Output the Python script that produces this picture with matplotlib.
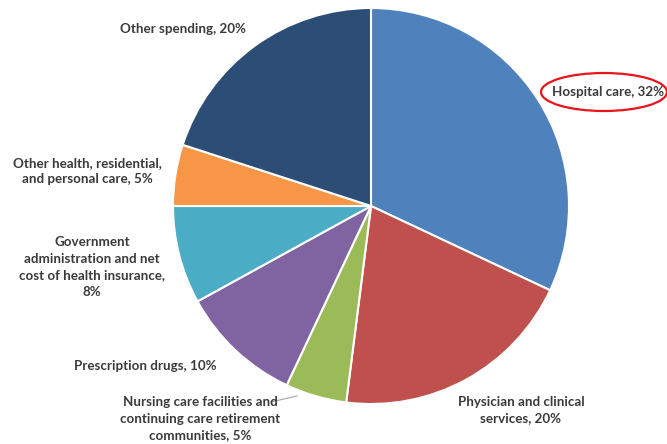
import matplotlib.pyplot as plt
from matplotlib.patches import Ellipse

# health spending shares, clockwise from 12 o'clock
categories = [
    "Hospital care",
    "Physician and clinical\nservices",
    "Nursing care facilities and\ncontinuing care retirement\ncommunities",
    "Prescription drugs",
    "Government\nadministration and net\ncost of health insurance,\n",
    "Other health, residential,\nand personal care",
    "Other spending",
]
shares = [32, 20, 5, 10, 8, 5, 20]
colors = ["#4F81BD", "#C0504D", "#9BBB59", "#8064A2", "#4BACC6", "#F79646", "#2C4D75"]

# label anchor points (pixels, from top-left)
label_pos = [(608, 92), (521, 410), (200, 419), (145, 366), (92, 267), (87, 171), (183, 29)]

W, H = 667, 444
fig = plt.figure(figsize=(W / 100, H / 100), dpi=100)
ax = fig.add_axes([0, 0, 1, 1])

ax.pie(shares, colors=colors, startangle=90, counterclock=False,
       center=(371, H - 206), radius=198, frame=True,
       wedgeprops=dict(edgecolor="white", linewidth=1.5))
ax.set_xlim(0, W)
ax.set_ylim(0, H)
ax.set_aspect("equal")
ax.axis("off")

for name, v, (x, y) in zip(categories, shares, label_pos):
    if name.endswith(",\n"):
        txt = f"{name}{v}%"
    else:
        txt = f"{name}, {v}%"
    ax.text(x, H - y, txt, ha="center", va="center", fontsize=9.6,
            fontweight="bold", color="#3A3A3A", family="Lato", linespacing=1.45)

# leader line for the nursing care slice
ax.plot([271, 297], [H - 402, H - 396], color="#A6A6A6", lw=0.8)

# highlight around hospital care
ax.add_patch(Ellipse((604, H - 92), 126, 38, fill=False, edgecolor="#E8141B", lw=1.6))

fig.savefig("out.png", dpi=100)
